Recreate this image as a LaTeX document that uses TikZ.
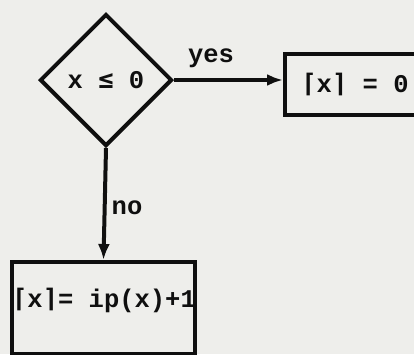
\documentclass[tikz,border=0pt]{standalone}
\usepackage{fontspec}
\setmainfont{Liberation Mono}
\newfontfamily\symf{DejaVu Sans Mono}
\usetikzlibrary{shapes.geometric,arrows.meta}
\definecolor{paper}{RGB}{238,238,235}
\definecolor{ink}{RGB}{15,15,15}
\tikzset{
  every node/.style={font=\fontsize{25.5}{27}\selectfont\bfseries, text=ink},
  decision/.style={diamond, draw=ink, line width=4pt, minimum width=132pt, minimum height=132pt, inner sep=0pt},
  procbox/.style={rectangle, draw=ink, line width=4pt, inner sep=0pt},
  flow/.style={draw=ink, line width=4pt, -{Latex[length=16pt,width=12pt]}},
  lbl/.style={inner sep=0pt}
}
\begin{document}
\begin{tikzpicture}[x=1pt,y=-1pt]
\fill[paper] (0,0) rectangle (414,354);
\useasboundingbox (0,0) rectangle (414,354);
\node[decision] (d) at (106,80) {x {\symf ≤} 0};
\node[procbox, minimum width=140pt, minimum height=61pt] (r) at (355,84.5) {{\symf ⌈}x{\symf ⌉} = 0};
\node[procbox, minimum width=183pt, minimum height=92pt] (b) at (103.5,308) {};
\node[lbl] (bt) at (104,300) {{\symf ⌈}x{\symf ⌉}= ip(x)+1};
\draw[flow] (d.east) -- (d.east -| r.west);
\draw[flow] (d.south) -- (b.north);
\node[lbl] (yes) at (211,58) {yes};
\node[lbl] (no) at (127,208) {no};
\end{tikzpicture}
\end{document}
